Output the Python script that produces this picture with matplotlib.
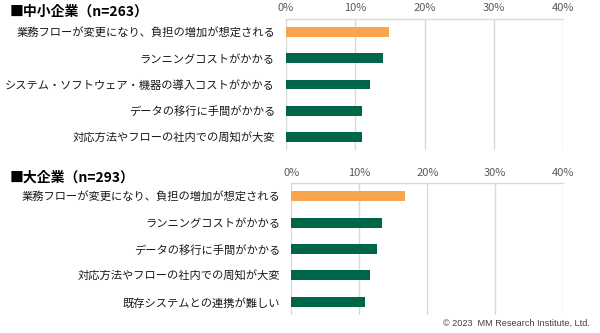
import matplotlib
matplotlib.use("Agg")
import matplotlib.pyplot as plt

plt.rcParams['font.family'] = ['Noto Sans CJK JP', 'DejaVu Sans']

sme_title = "■中小企業（n=263）"
sme_labels = [
    "業務フローが変更になり、負担の増加が想定される",
    "ランニングコストがかかる",
    "システム・ソフトウェア・機器の導入コストがかかる",
    "データの移行に手間がかかる",
    "対応方法やフローの社内での周知が大変",
]
sme_values = [14.8, 14.0, 12.1, 11.0, 11.0]

large_title = "■大企業（n=293）"
large_labels = [
    "業務フローが変更になり、負担の増加が想定される",
    "ランニングコストがかかる",
    "データの移行に手間がかかる",
    "対応方法やフローの社内での周知が大変",
    "既存システムとの連携が難しい",
]
large_values = [16.7, 13.3, 12.6, 11.6, 10.9]

ticks = [0, 10, 20, 30, 40]
tick_labels = ["0%", "10%", "20%", "30%", "40%"]

ORANGE = "#F9A54E"
GREEN = "#00664A"
GRID = "#D9D9D9"

W, H = 600, 333
fig = plt.figure(figsize=(6, 3.33), dpi=100)

def px_axes(l, r, t, b):
    return fig.add_axes([l / W, 1 - b / H, (r - l) / W, (b - t) / H])

def draw(ax, labels, values, title, title_y):
    colors = [ORANGE] + [GREEN] * (len(values) - 1)
    y = list(range(len(values)))
    ax.barh(y, values, height=0.38, color=colors, zorder=3)
    ax.set_xlim(0, 40)
    ax.set_ylim(len(values) - 0.5, -0.5)
    ax.set_xticks(ticks)
    ax.set_xticklabels(tick_labels, fontsize=8, color="#595959")
    ax.xaxis.tick_top()
    ax.tick_params(axis='x', length=0, pad=4)
    ax.set_yticks(y)
    ax.set_yticklabels(labels, fontsize=8.1, color="#1a1a1a")
    ax.tick_params(axis='y', length=0, pad=8)
    ax.grid(axis='x', color=GRID, linewidth=1, zorder=0)
    for s in ['left', 'right', 'bottom']:
        ax.spines[s].set_visible(False)
    ax.spines['top'].set_color(GRID)
    ax.spines['top'].set_linewidth(1)
    fig.text(10 / W, 1 - title_y / H, title, fontsize=10, fontweight='bold',
             color="#000000", va='center', ha='left')

ax1 = px_axes(286, 563.3, 19, 150)
draw(ax1, sme_labels, sme_values, sme_title, 12)
ax2 = px_axes(291.3, 563.3, 183.3, 315)
draw(ax2, large_labels, large_values, large_title, 178)

fig.text(590 / W, 1 - 323 / H, "© 2023  MM Research Institute, Ltd.",
         fontsize=6.6, color="#404040", ha='right', va='center',
         family=['Liberation Sans', 'DejaVu Sans'])

fig.savefig("out.png", dpi=100)
